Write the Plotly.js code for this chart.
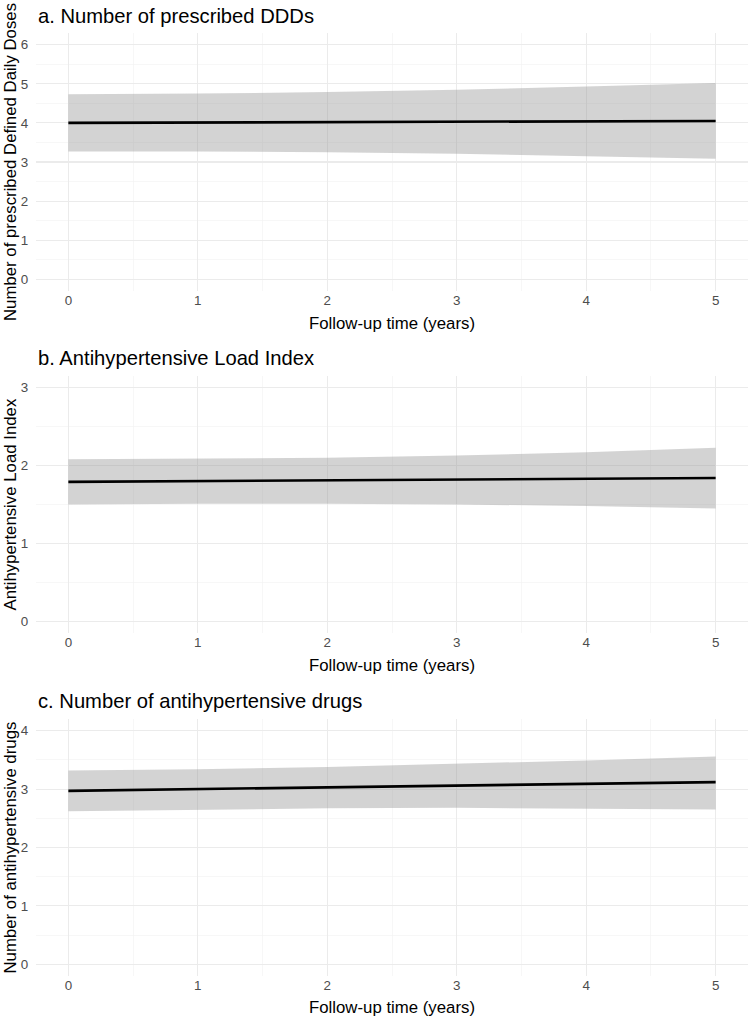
<!DOCTYPE html>
<html>
<head>
<meta charset="utf-8">
<script src="https://cdn.plot.ly/plotly-3.0.1.min.js"></script>
<style>
  html, body { margin: 0; padding: 0; background: #fff; }
  #chart { width: 749px; height: 1017px; }
</style>
</head>
<body>
<div id="chart"></div>
<script>
// Follow-up time points (years)
var years = [0, 1, 2, 3, 4, 5];

// a. Number of prescribed DDDs
var dddMean  = [4.00, 4.01, 4.02, 4.03, 4.04, 4.05];
var dddUpper = [4.73, 4.75, 4.79, 4.85, 4.93, 5.02];
var dddLower = [3.27, 3.27, 3.25, 3.21, 3.15, 3.08];

// b. Antihypertensive Load Index
var aliMean  = [1.79, 1.80, 1.81, 1.82, 1.83, 1.84];
var aliUpper = [2.08, 2.09, 2.10, 2.13, 2.17, 2.23];
var aliLower = [1.50, 1.51, 1.51, 1.50, 1.48, 1.45];

// c. Number of antihypertensive drugs
var drugMean  = [2.97, 3.00, 3.03, 3.06, 3.09, 3.12];
var drugUpper = [3.32, 3.34, 3.38, 3.43, 3.49, 3.56];
var drugLower = [2.62, 2.65, 2.67, 2.68, 2.67, 2.65];

var panelTitles = ['a. Number of prescribed DDDs', 'b. Antihypertensive Load Index', 'c. Number of antihypertensive drugs'];
var yTitles = ['Number of prescribed Defined Daily Doses', 'Antihypertensive Load Index', 'Number of antihypertensive drugs'];
var xTitle = 'Follow-up time (years)';

var W = 749, H = 1017;
var font = 'Liberation Sans, Arial, sans-serif';
var ribbonFill = 'rgba(150,150,150,0.42)';

// panel boxes in pixels: top, bottom
var panels = [
  { top: 33,  bottom: 291, range: [-0.3, 6.3],  lo: dddLower,  hi: dddUpper,  mid: dddMean,  titleY: 16,  xtY: 323 },
  { top: 376, bottom: 633, range: [-0.15, 3.15], lo: aliLower,  hi: aliUpper,  mid: aliMean,  titleY: 358, xtY: 665 },
  { top: 719, bottom: 976, range: [-0.2, 4.2],  lo: drugLower, hi: drugUpper, mid: drugMean, titleY: 701, xtY: 1007 }
];

var traces = [];
var layout = {
  width: W, height: H,
  margin: { l: 0, r: 0, t: 0, b: 0 },
  paper_bgcolor: '#fff',
  plot_bgcolor: '#fff',
  showlegend: false,
  annotations: []
};

panels.forEach(function(p, i) {
  var n = i === 0 ? '' : String(i + 1);
  var xa = 'x' + n, ya = 'y' + n;

  traces.push({
    x: years, y: p.lo, xaxis: xa, yaxis: ya,
    mode: 'lines', line: { width: 0 }, hoverinfo: 'skip', type: 'scatter'
  });
  traces.push({
    x: years, y: p.hi, xaxis: xa, yaxis: ya,
    mode: 'lines', line: { width: 0 }, fill: 'tonexty', fillcolor: ribbonFill,
    hoverinfo: 'skip', type: 'scatter'
  });
  traces.push({
    x: years, y: p.mid, xaxis: xa, yaxis: ya,
    mode: 'lines', line: { color: '#000', width: 2.6 }, type: 'scatter'
  });

  var tickFont = { family: font, size: 13.4, color: '#4d4d4d' };
  layout['xaxis' + n] = {
    domain: [36 / W, 748 / W],
    range: [-0.25, 5.25],
    anchor: ya,
    dtick: 1, tick0: 0,
    showgrid: true, gridcolor: '#ebebeb', gridwidth: 1.1,
    minor: { dtick: 0.5, showgrid: true, gridcolor: '#f2f2f2', gridwidth: 0.6 },
    zeroline: false, showline: false,
    ticks: '',
    tickfont: tickFont, automargin: false, fixedrange: true
  };
  layout['yaxis' + n] = {
    domain: [1 - p.bottom / H, 1 - p.top / H],
    range: p.range,
    anchor: xa,
    dtick: 1, tick0: 0,
    showgrid: true, gridcolor: '#ebebeb', gridwidth: 1.1,
    minor: { dtick: 0.5, showgrid: true, gridcolor: '#f2f2f2', gridwidth: 0.6 },
    zeroline: false, showline: false,
    ticks: 'outside', ticklen: 4, tickcolor: 'rgba(0,0,0,0)',
    tickfont: tickFont, automargin: false, fixedrange: true
  };

  // panel title
  layout.annotations.push({
    text: panelTitles[i], xref: 'paper', yref: 'paper',
    x: 36 / W, y: 1 - p.titleY / H, xanchor: 'left', yanchor: 'middle',
    showarrow: false, font: { family: font, size: 20.2, color: '#000' }
  });
  // x axis title
  layout.annotations.push({
    text: xTitle, xref: 'paper', yref: 'paper',
    x: 392 / W, y: 1 - p.xtY / H, xanchor: 'center', yanchor: 'middle',
    showarrow: false, font: { family: font, size: 16.8, color: '#000' }
  });
  // y axis title
  layout.annotations.push({
    text: yTitles[i], xref: 'paper', yref: 'paper', textangle: -90,
    x: 10 / W, y: 1 - ((p.top + p.bottom) / 2) / H, xanchor: 'center', yanchor: 'middle',
    showarrow: false, font: { family: font, size: 16.8, color: '#000' }
  });
});

Plotly.newPlot('chart', traces, layout, { displayModeBar: false, staticPlot: true });
</script>
</body>
</html>
